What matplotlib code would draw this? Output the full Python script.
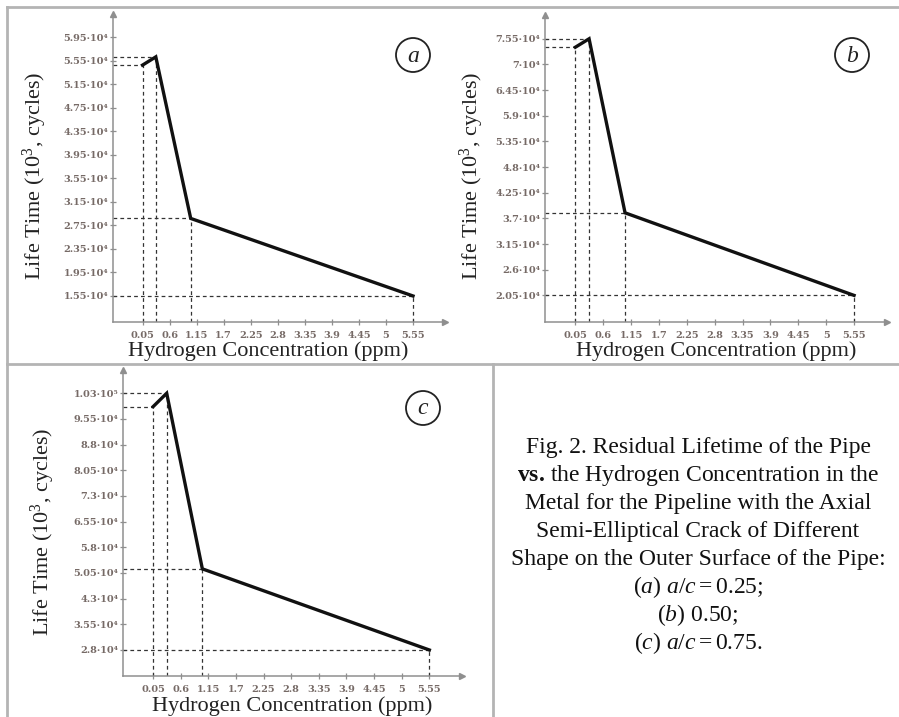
import matplotlib
matplotlib.use("Agg")
import matplotlib.pyplot as plt
from matplotlib.lines import Line2D
from matplotlib.patches import Ellipse

plt.rcParams['mathtext.fontset'] = 'custom'
plt.rcParams['mathtext.rm'] = 'Liberation Serif'
plt.rcParams['mathtext.it'] = 'Liberation Serif:italic'
plt.rcParams['mathtext.bf'] = 'Liberation Serif:bold'

W, H = 899, 717
SERIF = ['Liberation Serif', 'DejaVu Serif']

# data
conc = [0.05, 0.32, 1.03, 5.55]
life_a = [5.48e4, 5.62e4, 2.87e4, 1.55e4]
life_b = [7.37e4, 7.55e4, 3.82e4, 2.05e4]
life_c = [9.91e4, 1.03e5, 5.17e4, 2.8e4]

x_ticks = [0.05, 0.6, 1.15, 1.7, 2.25, 2.8, 3.35, 3.9, 4.45, 5.0, 5.55]
x_labels = ['0.05', '0.6', '1.15', '1.7', '2.25', '2.8', '3.35', '3.9', '4.45', '5', '5.55']

yticks_a = [1.55e4, 1.95e4, 2.35e4, 2.75e4, 3.15e4, 3.55e4, 3.95e4, 4.35e4, 4.75e4, 5.15e4, 5.55e4, 5.95e4]
ylabels_a = ['1.55·10⁴', '1.95·10⁴', '2.35·10⁴', '2.75·10⁴', '3.15·10⁴', '3.55·10⁴',
             '3.95·10⁴', '4.35·10⁴', '4.75·10⁴', '5.15·10⁴', '5.55·10⁴', '5.95·10⁴']
yticks_b = [2.05e4, 2.6e4, 3.15e4, 3.7e4, 4.25e4, 4.8e4, 5.35e4, 5.9e4, 6.45e4, 7.0e4, 7.55e4]
ylabels_b = ['2.05·10⁴', '2.6·10⁴', '3.15·10⁴', '3.7·10⁴', '4.25·10⁴', '4.8·10⁴',
             '5.35·10⁴', '5.9·10⁴', '6.45·10⁴', '7·10⁴', '7.55·10⁴']
yticks_c = [2.8e4, 3.55e4, 4.3e4, 5.05e4, 5.8e4, 6.55e4, 7.3e4, 8.05e4, 8.8e4, 9.55e4, 1.03e5]
ylabels_c = ['2.8·10⁴', '3.55·10⁴', '4.3·10⁴', '5.05·10⁴', '5.8·10⁴', '6.55·10⁴',
             '7.3·10⁴', '8.05·10⁴', '8.8·10⁴', '9.55·10⁴', '1.03·10⁵']

caption = [
    "Fig. 2. Residual Lifetime of the Pipe",
    r"$\mathbf{vs.}\,$the Hydrogen Concentration in the",
    "Metal for the Pipeline with the Axial",
    "Semi-Elliptical Crack of Different",
    "Shape on the Outer Surface of the Pipe:",
    r"($a$) $a/c=0.25$;",
    r"($b$) 0.50;",
    r"($c$) $a/c=0.75$.",
]

fig = plt.figure(figsize=(W / 100, H / 100), dpi=100)
fig.patch.set_facecolor('white')

AX_COL = '#8f8f8f'
TICK_COL = '#766a66'
TICK_FONT = ['DejaVu Serif']


def panel(box, life, yticks, ylabels, ylim, letter, circ, ylab_xy, xlab_xy):
    x0, y0, x1, y1 = box
    ax = fig.add_axes([x0 / W, 1 - y1 / H, (x1 - x0) / W, (y1 - y0) / H])
    xlim = (-0.55, 6.2)
    ax.set_xlim(xlim)
    ax.set_ylim(ylim)
    for s in ['top', 'right']:
        ax.spines[s].set_visible(False)
    for s in ['left', 'bottom']:
        ax.spines[s].set_color(AX_COL)
        ax.spines[s].set_linewidth(1.1)
    ax.plot(1, ylim[0], '>', color=AX_COL, ms=5, clip_on=False, transform=ax.get_yaxis_transform())
    ax.plot(xlim[0], 1, '^', color=AX_COL, ms=5, clip_on=False, transform=ax.get_xaxis_transform())

    # dashed guides
    for xv, yv in zip(conc, life):
        ax.plot([xlim[0], xv], [yv, yv], ls=(0, (3, 2.5)), color='#333333', lw=0.9)
        ax.plot([xv, xv], [ylim[0], yv], ls=(0, (3, 2.5)), color='#333333', lw=0.9)
    ax.plot(conc, life, color='#111111', lw=2.4, solid_joinstyle='miter')

    ax.set_xticks(x_ticks)
    ax.set_xticklabels(x_labels, family=TICK_FONT, fontsize=7, fontweight='bold', color=TICK_COL)
    ax.set_yticks(yticks)
    ax.set_yticklabels(ylabels, family=TICK_FONT, fontsize=7, fontweight='bold', color=TICK_COL)
    ax.tick_params(direction='inout', length=5, width=0.9, color=AX_COL)
    ax.tick_params(axis='y', pad=1)
    ax.tick_params(axis='x', pad=4)

    fig.text(ylab_xy[0] / W, 1 - ylab_xy[1] / H, r"Life Time (10$^3$, cycles)", rotation=90,
             ha='center', va='center', family=SERIF, fontsize=16, color='#222222')
    fig.text(xlab_xy[0] / W, 1 - xlab_xy[1] / H, "Hydrogen Concentration (ppm)",
             ha='center', va='center', family=SERIF, fontsize=16, color='#222222')
    fig.patches.append(Ellipse((circ[0] / W, 1 - circ[1] / H), 34 / W, 34 / H, fill=False,
                               ec='#222222', lw=1.3, transform=fig.transFigure))
    fig.text(circ[0] / W, 1 - (circ[1] + 1) / H, letter, ha='center', va='center',
             family=SERIF, style='italic', fontsize=17, color='#222222')
    return ax


panel((113, 14, 445, 322), life_a, yticks_a, ylabels_a, (1.107e4, 6.35e4), 'a', (413, 55), (35, 176), (268, 351))
panel((545, 15, 887, 322), life_b, yticks_b, ylabels_b, (1.48e4, 8.06e4), 'b', (852, 55), (472, 176), (716, 351))
panel((123, 370, 462, 676), life_c, yticks_c, ylabels_c, (2.04e4, 10.98e4), 'c', (423, 408), (43, 532), (292, 706))

# caption
for i, line in enumerate(caption):
    fig.text(698 / W, 1 - (448 + i * 27.8) / H, line, ha='center', va='center',
             family=SERIF, fontsize=17, color='#111111')

# frame lines of the figure table
frame = dict(color='#b4b4b4', lw=2.0, transform=fig.transFigure)
fig.add_artist(Line2D([7 / W, 1], [1 - 7 / H, 1 - 7 / H], **frame))
fig.add_artist(Line2D([7 / W, 7 / W], [0, 1 - 7 / H], **frame))
fig.add_artist(Line2D([7 / W, 1], [1 - 364 / H, 1 - 364 / H], **frame))
fig.add_artist(Line2D([493 / W, 493 / W], [0, 1 - 364 / H], **frame))

fig.savefig('out.png', dpi=100)
